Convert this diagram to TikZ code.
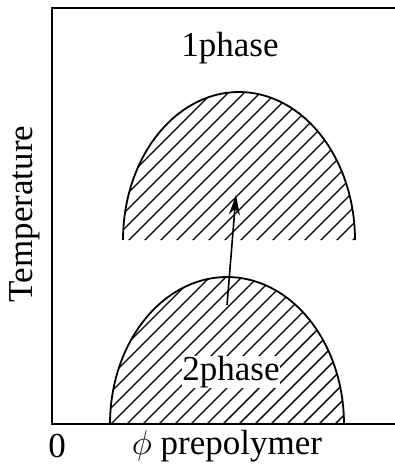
\documentclass[tikz,border=0pt]{standalone}
\usepackage{fontspec}
\setmainfont{Liberation Serif}
\usetikzlibrary{arrows.meta}
\begin{document}
\begin{tikzpicture}[x=0.5pt, y=-0.5pt, every node/.style={font=\fontsize{17.5}{20}\selectfont, inner sep=0pt}]
\useasboundingbox (0,0) rectangle (395,465);
% frame
\draw[line width=1.2pt] (395,8) -- (52,8) -- (52,424) -- (395,424);
% upper dome (hatched)
\begin{scope}
  \clip plot[domain=180:0, samples=80] ({239+116*cos(\x)}, {240-148*sin(\x)}) -- cycle;
  \foreach \a in {-400,-384,...,400}
    \draw[line width=0.7pt] (\a,465) -- ++(465,-465);
\end{scope}
\draw[line width=0.9pt] plot[domain=180:0, samples=80] ({239+116*cos(\x)}, {240-148*sin(\x)});
% lower dome (hatched)
\begin{scope}
  \clip plot[domain=180:0, samples=80] ({227+117*cos(\x)}, {424-147*sin(\x)}) -- cycle;
  \foreach \a in {-400,-384,...,400}
    \draw[line width=0.7pt] (\a+6,465) -- ++(465,-465);
\end{scope}
\draw[line width=0.9pt] plot[domain=180:0, samples=80] ({227+117*cos(\x)}, {424-147*sin(\x)});
% labels
\node (onephase) at (230,48) {1phase};
\node[fill=white] (twophase) at (231,372) {2phase};
\node[rotate=90] (tempaxis) at (25,214) {Temperature};
\node (origin) at (57,446) {0};
\node (philabel) at (227,446) {$\phi$ prepolymer};
% arrow
\coordinate (arrowtail) at (227,305);
\coordinate (arrowhead) at (236,195);
\draw[line width=0.8pt, -{Stealth[length=10pt, width=5.5pt]}] (arrowtail) -- (arrowhead);
\end{tikzpicture}
\end{document}
